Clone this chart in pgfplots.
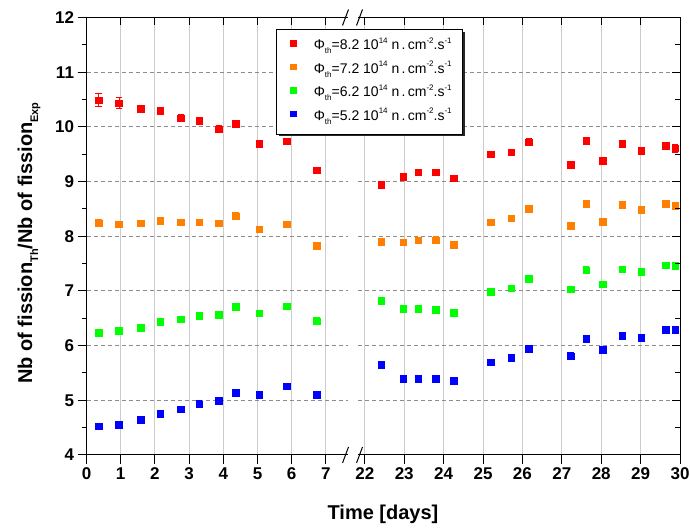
\documentclass[border=0pt]{standalone}
\usepackage{fontspec}
\setmainfont{Liberation Sans}
\usepackage{pgfplots}
\pgfplotsset{compat=1.18}
\usepackage{pgfplotstable}
\usetikzlibrary{shadows}

\definecolor{cR}{RGB}{255,0,0}
\definecolor{cO}{RGB}{255,128,0}
\definecolor{cG}{RGB}{0,255,0}
\definecolor{cB}{RGB}{0,0,255}

\newcommand\lsub[1]{\raisebox{-0.55ex}{\fontsize{8}{8}\selectfont #1}}
\newcommand\lsup[1]{\raisebox{0.85ex}{\fontsize{8}{8}\selectfont #1}}
\newcommand\ysub[1]{\raisebox{-0.55ex}{\fontsize{11}{11}\selectfont #1}}

\pgfplotstableread{
x     r     re    o    oe    g    ge    b    be
0.35  10.49 0.12  8.24 0.06  6.24 0.05  4.53 0.05
0.95  10.43 0.10  8.22 0.05  6.27 0.05  4.55 0.05
1.58  10.33 0.06  8.24 0.05  6.33 0.06  4.64 0.05
2.15  10.30 0.06  8.28 0.05  6.44 0.05  4.75 0.05
2.76  10.16 0.06  8.26 0.05  6.48 0.06  4.84 0.05
3.29  10.11 0.05  8.26 0.05  6.55 0.05  4.93 0.06
3.87  9.96  0.06  8.24 0.05  6.56 0.05  4.99 0.05
4.36  10.06 0.05  8.37 0.06  6.71 0.05  5.14 0.06
5.05  9.69  0.05  8.13 0.05  6.59 0.05  5.10 0.05
5.85  9.74  0.04  8.22 0.05  6.72 0.05  5.26 0.05
6.73  9.21  0.05  7.83 0.05  6.45 0.06  5.10 0.05
}\leftdata

\pgfplotstableread{
x     r     re    o    oe    g    ge    b    be
22.42 8.94  0.06  7.90 0.05  6.82 0.05  5.65 0.05
22.97 9.09  0.04  7.89 0.05  6.68 0.05  5.40 0.05
23.35 9.17  0.05  7.93 0.05  6.68 0.05  5.40 0.05
23.80 9.17  0.04  7.93 0.06  6.66 0.05  5.39 0.06
24.25 9.06  0.04  7.85 0.05  6.60 0.05  5.36 0.06
25.20 9.50  0.04  8.26 0.05  6.99 0.05  5.70 0.05
25.72 9.54  0.04  8.33 0.05  7.05 0.05  5.78 0.05
26.16 9.72  0.06  8.50 0.06  7.22 0.05  5.94 0.05
27.22 9.31  0.06  8.19 0.05  7.03 0.05  5.81 0.06
27.62 9.75  0.05  8.60 0.05  7.38 0.06  6.13 0.05
28.04 9.38  0.04  8.27 0.05  7.12 0.05  5.93 0.05
28.53 9.69  0.06  8.58 0.06  7.40 0.05  6.18 0.05
29.01 9.56  0.06  8.48 0.06  7.35 0.06  6.15 0.05
29.63 9.66  0.05  8.60 0.05  7.47 0.05  6.29 0.05
29.88 9.61  0.07  8.56 0.06  7.46 0.05  6.29 0.05
}\rightdata

\pgfplotsset{
  base/.style={
    scale only axis, height=437.5pt,
    ymin=4, ymax=12, ytick={4,...,12}, minor y tick num=1,
    ticklabel style={font=\bfseries\fontsize{17}{17}\selectfont},
    /pgf/number format/assume math mode=true,
    axis line style={line width=1pt, black},
    tick style={black, line width=1pt},
    major tick length=9pt, minor tick length=5pt,
  },
  grids/.style={
    xmajorgrids, ymajorgrids,
    major x grid style={gray!40, line width=1pt},
    major y grid style={gray!90, line width=1pt, dash pattern=on 4pt off 3pt},
  },
  leftax/.style={base, at={(86.5pt,74pt)}, anchor=south west, width=261.5pt,
    xmin=0, xmax=7.646, xtick={0,...,7}},
  rightax/.style={base, at={(358pt,74pt)}, anchor=south west, width=322pt,
    xmin=21.827, xmax=30, xtick={22,...,30}},
  ser/.style={only marks, mark=square*, mark size=3.3pt, color=#1,
    error bars/y dir=both, error bars/y explicit,
    error bars/error bar style={line width=0.8pt},
    error bars/error mark options={rotate=90, mark size=3.2pt, line width=0.8pt}},
}

\begin{document}
\begin{tikzpicture}[x=1pt,y=1pt]
\useasboundingbox (0,0) rectangle (690,529);

% right main
\begin{axis}[rightax, grids,
  axis x line*=bottom, axis y line*=right, tick align=outside,
  ytick pos=right, yticklabels={},
  major y tick style={draw=none}, minor y tick style={draw=none}]
\addplot[ser=cR] table[x=x, y=r, y error=re]{\rightdata};
\addplot[ser=cO] table[x=x, y=o, y error=oe]{\rightdata};
\addplot[ser=cG] table[x=x, y=g, y error=ge]{\rightdata};
\addplot[ser=cB] table[x=x, y=b, y error=be]{\rightdata};
\end{axis}

% right overlay (top & right inward ticks)
\begin{axis}[rightax, axis x line*=top, axis y line*=right, tick align=inside,
  major tick length=8pt, minor tick length=5pt,
  xticklabels={}, yticklabels={}]
\end{axis}

% left main
\begin{axis}[leftax, grids,
  axis x line*=bottom, axis y line*=left, tick align=outside,
  legend style={at={(0.7247,0.9737)}, anchor=north west,
    draw=black, line width=0.8pt, fill=white,
    drop shadow={shadow xshift=2.2pt, shadow yshift=-2.2pt, fill=black!85, opacity=1},
    font=\fontsize{14}{16}\selectfont,
    inner xsep=11pt, inner ysep=11pt, row sep=11.3pt,
    nodes={inner sep=0pt, text height=9pt, text depth=3pt}},
  legend cell align=left,
  legend image code/.code={\path (0,0) (0.9cm,0);
    \path[#1] plot[mark size=2.8pt] coordinates {(0.2cm,0.12cm)};}]
\addplot[ser=cR] table[x=x, y=r, y error=re]{\leftdata};
\addlegendentry{Φ\lsub{th}=8.2 10\lsup{14} n\,.\,cm\lsup{-2}.s\lsup{-1}\hspace{3pt}}
\addplot[ser=cO] table[x=x, y=o, y error=oe]{\leftdata};
\addlegendentry{Φ\lsub{th}=7.2 10\lsup{14} n\,.\,cm\lsup{-2}.s\lsup{-1}\hspace{3pt}}
\addplot[ser=cG] table[x=x, y=g, y error=ge]{\leftdata};
\addlegendentry{Φ\lsub{th}=6.2 10\lsup{14} n\,.\,cm\lsup{-2}.s\lsup{-1}\hspace{3pt}}
\addplot[ser=cB] table[x=x, y=b, y error=be]{\leftdata};
\addlegendentry{Φ\lsub{th}=5.2 10\lsup{14} n\,.\,cm\lsup{-2}.s\lsup{-1}\hspace{3pt}}
\end{axis}

% left overlay (top inward ticks)
\begin{axis}[leftax, axis x line*=top, axis y line=none, tick align=inside,
  major tick length=8pt, xticklabels={}, ytick=\empty, minor y tick num=0]
\end{axis}

% axis breaks
\draw[line width=1pt] (342.5,66) -- (348.5,82) (356.5,66) -- (362.5,82);
\draw[line width=1pt] (342.5,503.5) -- (348.5,519.5) (356.5,503.5) -- (362.5,519.5);

% axis labels
\node[anchor=base, font=\bfseries\fontsize{20}{20}\selectfont] at (383,9) {Time [days]};
\node[rotate=90, font=\bfseries\fontsize{20}{20}\selectfont] at (29,286)
  {Nb of fission\ysub{Th}/Nb of fission\ysub{Exp}};
\end{tikzpicture}
\end{document}
